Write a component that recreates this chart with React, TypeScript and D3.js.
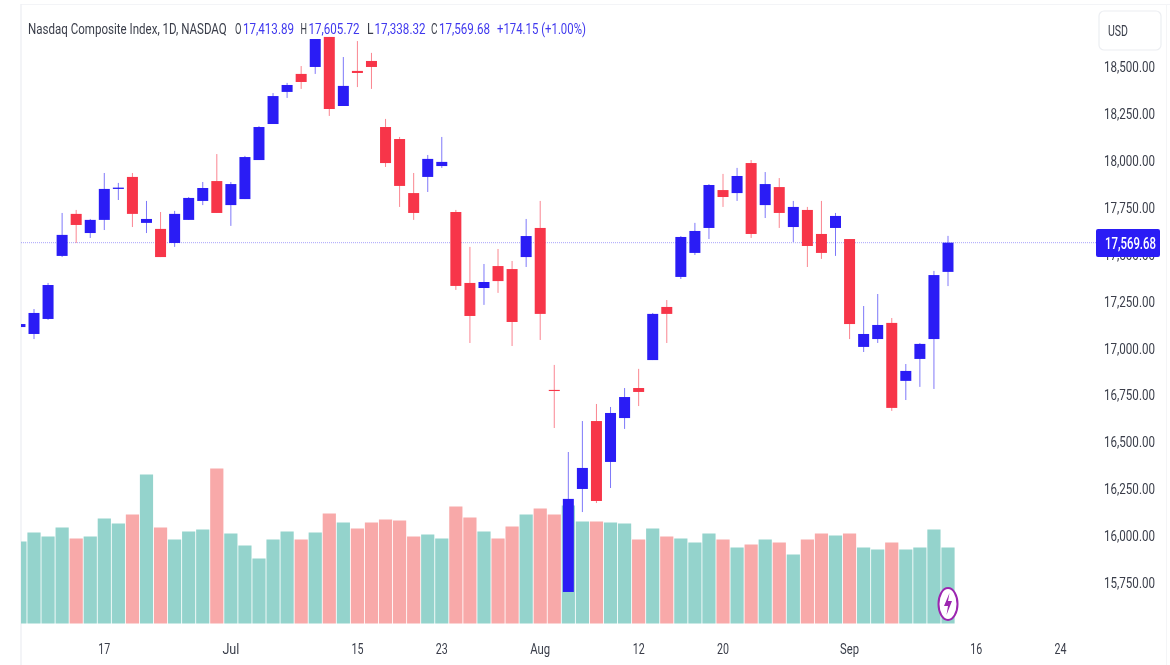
import React from "react";
import * as d3 from "d3";

const opens = [17120,17083,17163,17499,17723,17621,17691,17856,17920,17675,17643,17568,17691,17792,17898,17770,17802,18010,18202,18373,18469,18506,18666,18298,18485,18538,18186,18122,17834,17920,17978,17733,17355,17328,17445,17429,17493,17648,16785,15708,16257,16619,16401,16635,16795,16944,17227,17387,17515,17648,17850,17834,17994,17770,17866,17653,17744,17616,17648,17589,17014,17056,17142,16833,16950,17056,17413.89];
const highs = [17140,17216,17355,17728,17744,17696,17941,17888,17941,17792,17733,17739,17813,17893,18042,17893,18032,18191,18367,18421,18511,18655,18666,18559,18644,18581,18229,18133,17941,18037,18133,17744,17547,17456,17536,17472,17696,17792,16918,16454,16619,16710,16694,16795,16897,17195,17264,17605,17675,17882,17936,17968,18010,17946,17914,17792,17760,17792,17728,17589,17232,17296,17168,16923,17035,17419,17605.72];
const lows = [17116,17056,17158,17493,17568,17595,17637,17797,17653,17621,17493,17547,17691,17770,17728,17659,17802,18010,18202,18341,18389,18469,18245,18298,18399,18389,17973,17760,17691,17840,17968,17318,17035,17238,17302,17019,17440,17051,16582,15708,16134,16182,16262,16577,16699,16944,17035,17376,17504,17589,17760,17792,17595,17701,17648,17573,17440,17483,17499,17056,16987,17035,16673,16731,16801,16790,17338.32];
const closes = [17136,17195,17344,17611,17664,17691,17856,17863,17723,17696,17493,17723,17808,17861,17728,17882,18026,18186,18351,18410,18426,18655,18282,18405,18474,18506,17994,17872,17728,18016,18000,17339,17179,17360,17365,17147,17605,17190,16779,16204,16369,16193,16662,16747,16774,17190,17190,17600,17632,17877,17813,17925,17616,17882,17728,17760,17552,17515,17712,17136,17083,17131,16689,16886,17030,17397,17569.68];
const volumes = [4.1,4.55,4.35,4.8,4.25,4.35,5.25,5.0,5.45,7.45,4.8,4.2,4.6,4.7,7.75,4.5,3.9,3.25,4.2,4.6,4.2,4.55,5.5,5.05,4.75,5.05,5.2,5.15,4.35,4.45,4.25,5.85,5.3,4.6,4.25,4.85,5.45,5.75,5.45,5.9,5.1,5.1,5.05,5.0,4.2,4.75,4.35,4.25,4.05,4.5,4.2,3.8,3.95,4.2,4.05,3.45,4.2,4.5,4.4,4.5,3.8,3.7,4.05,3.7,3.8,4.7,3.8];
const volumeUp = [1,1,1,1,0,1,1,1,0,1,0,1,1,1,0,1,1,1,1,1,0,1,0,1,0,0,0,0,0,1,1,0,0,1,0,0,1,0,0,1,1,0,1,1,0,1,0,1,1,1,0,1,0,1,0,1,0,0,1,0,1,1,0,1,1,1,1];
const sessions = d3.range(-1, 66);

const priceTicks = [18500,18250,18000,17750,17500,17250,17000,16750,16500,16250,16000,15750];
const timeTickLabels = ["17","Jul","15","23","Aug","12","20","Sep","16","24"];
const timeTickSessions = [5,14,23,29,36,43,49,58,67,73];
const timeTickWidths = [12,17,12,12,20,12,12,19,12,12];

const seriesName = "Nasdaq Composite Index, 1D, NASDAQ";
const ohlcLabels = [
  { key: "O", value: "17,413.89", kx: 235, vx: 243 },
  { key: "H", value: "17,605.72", kx: 300.5, vx: 308.5 },
  { key: "L", value: "17,338.32", kx: 367, vx: 374.5 },
  { key: "C", value: "17,569.68", kx: 431, vx: 439 },
];
const changeLabel = "+174.15 (+1.00%)";
const lastPrice = 17569.68;
const lastPriceLabel = "17,569.68";

const BLUE = "#2A1FF5";
const RED = "#F73648";
const TEAL = "#94D3CC";
const PINK = "#F8A9A9";
const INK = "#3a3e4a";
const FONT = "Roboto, sans-serif";

const x = d3.scaleLinear().domain([0, 65]).range([34, 948]);
const y = d3.scaleLinear().domain([15750, 18500]).range([584.1, 68.1]);
const vol = d3.scaleLinear().domain([0, 10]).range([623.5, 423.5]);
const fmt = d3.format(",.2f");

// The reference's type is horizontally condensed: measure the text, then squeeze it to width w.
function Label({ x: lx, y: ly, w, anchor = "start", fill = INK, size = 15.5, weight = 400, children }: any) {
  const fit = (el: SVGTextElement | null) => {
    if (!el) return;
    const natural = el.getComputedTextLength();
    el.setAttribute("transform", `translate(${lx},${ly}) scale(${natural ? w / natural : 1},1)`);
  };
  return (
    <text ref={fit} textAnchor={anchor} fill={fill} fontSize={size} fontFamily={FONT} fontWeight={weight}>{children}</text>
  );
}

export default function App() {
  return (
    <svg width={1170} height={665} style={{ position: "fixed", left: 0, top: 0, background: "#fff" }}>
      <defs>
        <filter id="soft" x="0" y="0" width="100%" height="100%">
          <feGaussianBlur stdDeviation="0.5" />
        </filter>
        <clipPath id="pane"><rect x={21} y={5} width={1075} height={640} /></clipPath>
      </defs>
      <rect width={1170} height={665} fill="#fff" />
      <g filter="url(#soft)">
        <line x1={21} x2={21} y1={4} y2={665} stroke="#eff0f4" strokeWidth={1.5} />
        <line x1={21} x2={1170} y1={4} y2={4} stroke="#eff0f4" strokeWidth={1.5} />
        <line x1={1166.5} x2={1166.5} y1={4} y2={665} stroke="#f4f5f7" strokeWidth={1} />

        <g clipPath="url(#pane)">
          {sessions.map((s, i) => (
            <rect key={s} x={x(s) - 6.6} width={13.2} y={vol(volumes[i])} height={vol(0) - vol(volumes[i])}
              fill={volumeUp[i] ? TEAL : PINK} />
          ))}
          <line x1={21} x2={1096} y1={y(lastPrice)} y2={y(lastPrice)} stroke={BLUE} strokeOpacity={0.4} strokeWidth={1} strokeDasharray="1 1" />
          {sessions.map((s, i) => {
            const up = closes[i] >= opens[i];
            const c = up ? BLUE : RED;
            const top = y(Math.max(opens[i], closes[i]));
            const bot = y(Math.min(opens[i], closes[i]));
            return (
              <g key={s}>
                <line x1={x(s)} x2={x(s)} y1={y(highs[i])} y2={y(lows[i])} stroke={c} strokeOpacity={0.6} strokeWidth={1} />
                <rect x={x(s) - 5.5} width={11} y={top} height={Math.max(1, bot - top)} fill={c} />
              </g>
            );
          })}
        </g>

        {priceTicks.map(t => (
          <Label key={t} x={1104} y={y(t) + 4} w={51}>{fmt(t)}</Label>
        ))}

        {timeTickLabels.map((t, i) => (
          <Label key={t + i} x={x(timeTickSessions[i])} y={653.5} w={timeTickWidths[i]} anchor="middle">{t}</Label>
        ))}

        <Label x={28} y={34} w={199}>{seriesName}</Label>
        {ohlcLabels.map(d => (
          <g key={d.key}>
            <Label x={d.kx} y={34} w={6.5}>{d.key}</Label>
            <Label x={d.vx} y={34} w={51} fill="#3F38EE">{d.value}</Label>
          </g>
        ))}
        <Label x={497} y={34} w={89} fill="#3F38EE">{changeLabel}</Label>

        <rect x={1099} y={11} width={62} height={39} rx={5} fill="#fff" stroke="#eceef2" strokeWidth={1.2} />
        <Label x={1108} y={36} w={20}>USD</Label>

        <rect x={1096} y={229} width={64} height={28} rx={2} fill={BLUE} />
        <Label x={1105} y={248.5} w={51} fill="#fff" size={16} weight={500}>{lastPriceLabel}</Label>

        <ellipse cx={948} cy={604} rx={9.5} ry={16} fill="#fff" stroke="#9C27B0" strokeWidth={2} />
        <path d="M949.5 593 L944 606 L948 606 L946.5 615 L952 601 L948 601 Z" fill="#9C27B0" />
      </g>
    </svg>
  );
}
